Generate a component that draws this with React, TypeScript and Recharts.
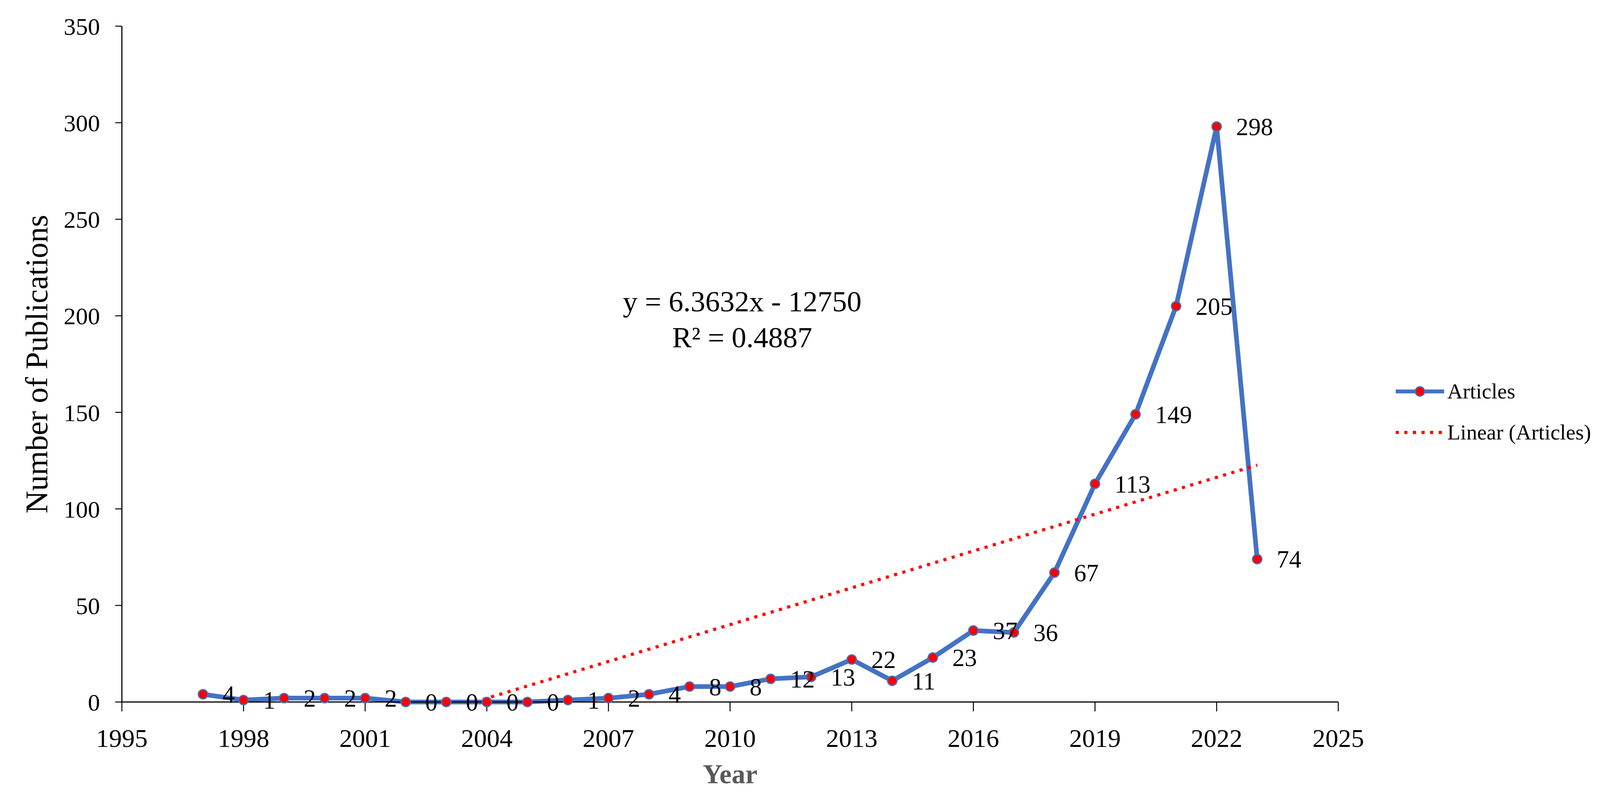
import React from "react";
import { LineChart, Line, XAxis, YAxis, Legend, LabelList } from "recharts";

const YEARS = [
  1997, 1998, 1999, 2000, 2001, 2002, 2003, 2004, 2005, 2006, 2007, 2008, 2009, 2010,
  2011, 2012, 2013, 2014, 2015, 2016, 2017, 2018, 2019, 2020, 2021, 2022, 2023,
];
const ARTICLES = [
  4, 1, 2, 2, 2, 0, 0, 0, 0, 1, 2, 4, 8, 8, 12, 13, 22, 11, 23, 37, 36, 67, 113, 149, 205, 298, 74,
];

// trendline ends as drawn (clipped at y = 0 on the left)
const TREND_YEARS = [2003.7, 2023];
const TREND_VALUES = [0, 122.7];

const X_TICKS = [1995, 1998, 2001, 2004, 2007, 2010, 2013, 2016, 2019, 2022, 2025];
const Y_TICKS = [0, 50, 100, 150, 200, 250, 300, 350];

const EQUATION = "y = 6.3632x - 12750";
const R_SQUARED = "R² = 0.4887";

const BLUE = "#4472C4";
const RED = "#FF0000";
const FONT = "'Liberation Serif', 'Times New Roman', serif";

const W = 4118;
const H = 2030;

const articleRows = YEARS.map((year, i) => ({ year, value: ARTICLES[i] }));
const trendRows = TREND_YEARS.map((year, i) => ({ year, value: TREND_VALUES[i] }));

function ValueLabel(props: any) {
  const x = props.x ?? props.viewBox?.x;
  const y = props.y ?? props.viewBox?.y;
  return (
    <text x={x + 50} y={y} dy="0.35em" fontSize={63} fill="#000" fontFamily={FONT}>
      {props.value}
    </text>
  );
}

function LegendContent() {
  const row: React.CSSProperties = { display: "flex", alignItems: "center", height: 105 };
  const txt: React.CSSProperties = { marginLeft: 8, fontSize: 55, fontFamily: FONT, color: "#000", whiteSpace: "nowrap" };
  return (
    <div>
      <div style={row}>
        <svg width={124} height={30}>
          <line x1={0} y1={15} x2={124} y2={15} stroke={BLUE} strokeWidth={10} />
          <circle cx={62} cy={15} r={12} fill={RED} stroke={BLUE} strokeWidth={3} />
        </svg>
        <span style={txt}>Articles</span>
      </div>
      <div style={row}>
        <svg width={124} height={30}>
          <line x1={0} y1={15} x2={120} y2={15} stroke={RED} strokeWidth={8} strokeDasharray="8 14" />
        </svg>
        <span style={txt}>Linear (Articles)</span>
      </div>
    </div>
  );
}

export default function App() {
  return (
    <div style={{ position: "relative", width: W, height: H, fontFamily: FONT }}>
      <LineChart width={W} height={H} margin={{ top: 59, right: 700, bottom: 0, left: 0 }}>
        <XAxis
          dataKey="year"
          type="number"
          domain={[1995, 2025]}
          ticks={X_TICKS}
          interval={0}
          height={241}
          tickSize={24}
          tickMargin={44}
          axisLine={{ stroke: "#000", strokeWidth: 3 }}
          tickLine={{ stroke: "#000", strokeWidth: 2.5 }}
          tick={{ fontSize: 66, fill: "#000", fontFamily: FONT }}
          label={{
            content: (p: any) => {
              const vb = p.viewBox;
              return (
                <text
                  x={vb.x + vb.width / 2}
                  y={vb.y + 208}
                  textAnchor="middle"
                  fontSize={70}
                  fontWeight="bold"
                  fill="#595959"
                  fontFamily={FONT}
                >
                  Year
                </text>
              );
            },
          }}
        />
        <YAxis
          type="number"
          domain={[0, 350]}
          ticks={Y_TICKS}
          interval={0}
          width={304}
          tickSize={17}
          tickMargin={39}
          axisLine={{ stroke: "#000", strokeWidth: 3 }}
          tickLine={{ stroke: "#000", strokeWidth: 2.5 }}
          tick={{ fontSize: 62, fill: "#000", fontFamily: FONT }}
          label={{
            content: (p: any) => {
              const vb = p.viewBox;
              const cx = 89;
              const cy = vb.y + vb.height / 2;
              return (
                <text
                  x={cx}
                  y={cy}
                  dy="0.3em"
                  textAnchor="middle"
                  transform={`rotate(-90 ${cx} ${cy})`}
                  fontSize={80}
                  fill="#000"
                  fontFamily={FONT}
                >
                  Number of Publications
                </text>
              );
            },
          }}
        />
        <Legend
          layout="vertical"
          align="center"
          verticalAlign="middle"
          content={<LegendContent />}
          wrapperStyle={{ left: 3565, top: 941, width: 530 }}
        />
        <Line
          data={articleRows}
          dataKey="value"
          name="Articles"
          stroke={BLUE}
          strokeWidth={12}
          dot={{ r: 12, fill: RED, stroke: BLUE, strokeWidth: 3 }}
          activeDot={false}
          isAnimationActive={false}
        >
          <LabelList dataKey="value" content={<ValueLabel />} />
        </Line>
        <Line
          data={trendRows}
          dataKey="value"
          name="Linear (Articles)"
          stroke={RED}
          strokeWidth={8}
          strokeDasharray="8 14"
          dot={false}
          activeDot={false}
          isAnimationActive={false}
        />
      </LineChart>
      <div
        style={{
          position: "absolute",
          left: 1492,
          top: 718,
          width: 800,
          textAlign: "center",
          fontSize: 75,
          lineHeight: "92px",
          fontFamily: FONT,
          color: "#000",
        }}
      >
        <div>{EQUATION}</div>
        <div>{R_SQUARED}</div>
      </div>
    </div>
  );
}
